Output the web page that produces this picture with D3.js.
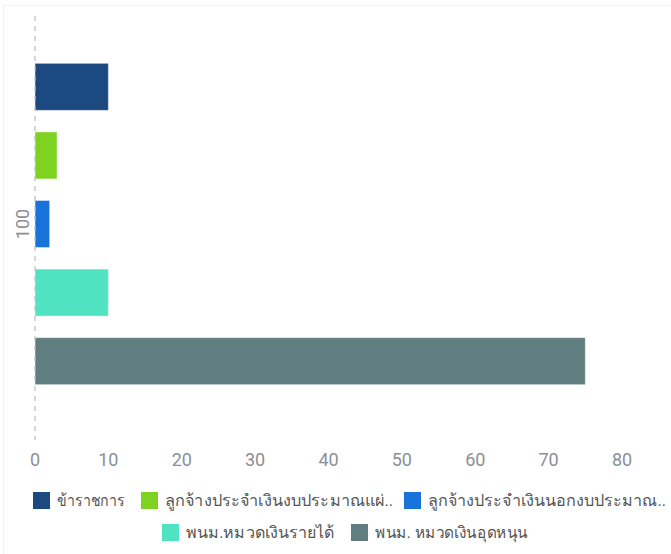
<!DOCTYPE html>
<html>
<head>
<meta charset="utf-8">
<script src="https://cdn.jsdelivr.net/npm/d3@7"></script>
<style>
    body { margin: 0; background: #fff; }
    text { font-family: Roboto, "Noto Sans", sans-serif; }
</style>
</head>
<body>
<div id="chart"></div>
<script>
// category on the y axis
const categories = ["100"];
// series names (legend text as shown, truncated)
const seriesNames = [
    "ข้าราชการ",
    "ลูกจ้างประจำเงินงบประมาณแผ่..",
    "ลูกจ้างประจำเงินนอกงบประมาณ..",
    "พนม.หมวดเงินรายได้",
    "พนม. หมวดเงินอุดหนุน"
];
const seriesValues = [10, 3, 2, 10, 75];
const seriesColors = ["#1c4a80", "#7ed321", "#1a73db", "#50e3c2", "#607d80"];
const xTicks = [0, 10, 20, 30, 40, 50, 60, 70, 80];

const width = 671, height = 554;

const svg = d3.select("#chart").append("svg")
    .attr("width", width)
    .attr("height", height);

// faint frame
svg.append("path")
    .attr("d", "M3.5,554 L3.5,5.5 L671,5.5")
    .attr("fill", "none")
    .attr("stroke", "#f3f3f3")
    .attr("stroke-width", 1);

let xSc = d3.scaleLinear().domain([0, 80]).range([35, 622]);

let ySc = d3.scaleBand().domain(categories).range([16, 432]);

let inner = d3.scaleBand()
    .domain(seriesNames)
    .range([0, ySc.bandwidth()])
    .paddingInner(0.314)
    .paddingOuter(0.69);

// x tick labels
svg.append("g")
    .selectAll("text")
    .data(xTicks)
    .enter().append("text")
    .attr("x", d => xSc(d))
    .attr("y", 466)
    .attr("text-anchor", "middle")
    .attr("font-size", 18)
    .attr("fill", "#8a8f99")
    .text(d => d);

// bars
let rows = seriesNames.map((s, i) => ({name: s, value: seriesValues[i], color: seriesColors[i], cat: categories[0]}));

svg.append("g")
    .selectAll("rect")
    .data(rows)
    .enter().append("rect")
    .attr("x", xSc(0))
    .attr("y", d => ySc(d.cat) + inner(d.name))
    .attr("width", d => xSc(d.value) - xSc(0))
    .attr("height", inner.bandwidth())
    .attr("fill", d => d.color)
    .attr("stroke", "rgba(255,255,255,0.45)")
    .attr("stroke-width", 1);

// dashed zero line
svg.append("line")
    .attr("x1", xSc(0)).attr("x2", xSc(0))
    .attr("y1", 16).attr("y2", 440)
    .attr("stroke", "#bdbdbd")
    .attr("stroke-width", 1.2)
    .attr("stroke-dasharray", "5,5");

// category label
svg.append("g")
    .selectAll("text")
    .data(categories)
    .enter().append("text")
    .attr("transform", d => "translate(29," + (ySc(d) + ySc.bandwidth() / 2) + ") rotate(-90)")
    .attr("text-anchor", "middle")
    .attr("font-size", 18)
    .attr("fill", "#8a8f99")
    .text(d => d);

// legend (swatch x, row y, text width)
const legendPos = [
    [33, 492, 68], [141, 492, 228], [404, 492, 238],
    [162, 524, 148], [351, 524, 153]
];
let legend = svg.append("g")
    .selectAll("g")
    .data(rows)
    .enter().append("g")
    .attr("transform", (d, i) => "translate(" + legendPos[i][0] + "," + legendPos[i][1] + ")");

legend.append("rect")
    .attr("width", 17)
    .attr("height", 17)
    .attr("fill", d => d.color);

legend.append("text")
    .attr("x", 24)
    .attr("y", 14)
    .attr("font-size", 16)
    .attr("fill", "#555")
    .attr("textLength", (d, i) => legendPos[i][2])
    .attr("lengthAdjust", "spacingAndGlyphs")
    .text(d => d.name);
</script>
</body>
</html>
